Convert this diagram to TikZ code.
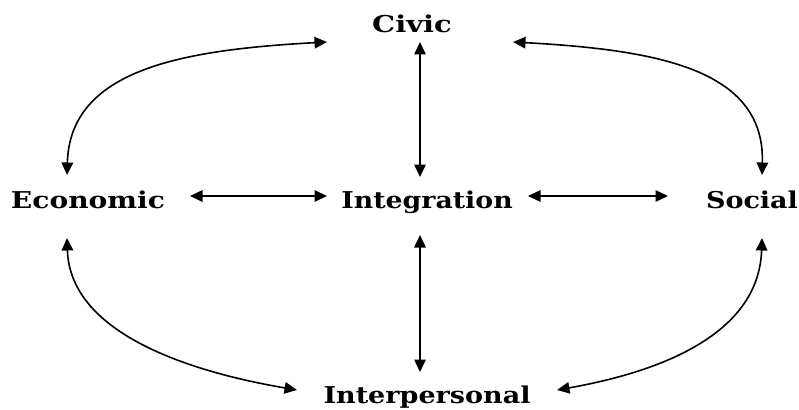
\documentclass[tikz,border=0pt]{standalone}
\usepackage{fontspec}
\newfontfamily\lblfont{DejaVu Serif}[BoldFont={DejaVu Serif Bold}]
\usetikzlibrary{arrows.meta}
\newcommand{\lbltext}[2]{\scalebox{#1}[1.03]{#2}}
\begin{document}
\begin{tikzpicture}[x=1pt,y=-1pt,
  lbl/.style={inner sep=0pt,anchor=base,font=\lblfont\bfseries\fontsize{22.5}{24}\selectfont},
  link/.style={line width=1.6pt,{Triangle[length=12.5pt,width=11.5pt]}-{Triangle[length=12.5pt,width=11.5pt]}}]
\useasboundingbox (0,0) rectangle (799,409);
\node[lbl] (civic) at (412,33) {\lbltext{1.29}{Civic}};
\node[lbl] (econ) at (88,208) {\lbltext{1.25}{Economic}};
\node[lbl] (integ) at (427,208) {\lbltext{1.19}{Integration}};
\node[lbl] (social) at (752,208) {\lbltext{1.2}{Social}};
\node[lbl] (inter) at (427,403) {\lbltext{1.2}{Interpersonal}};
% connector end points
\coordinate (civic-s) at (420,42);
\coordinate (integ-n) at (420,177);
\coordinate (integ-s) at (420,235);
\coordinate (inter-n) at (420,372);
\coordinate (econ-e) at (190,196);
\coordinate (integ-w) at (327,196);
\coordinate (integ-e) at (528,196);
\coordinate (social-w) at (668,196);
\coordinate (civic-w) at (327,42);
\coordinate (civic-e) at (513,42);
\coordinate (econ-n) at (67,175);
\coordinate (econ-s) at (67,238);
\coordinate (social-n) at (762,175);
\coordinate (social-s) at (762,238);
\coordinate (inter-w) at (297,390);
\coordinate (inter-e) at (557,390);
\draw[link] (civic-s) -- (integ-n);
\draw[link] (integ-s) -- (inter-n);
\draw[link] (econ-e) -- (integ-w);
\draw[link] (integ-e) -- (social-w);
\draw[link] (civic-w) .. controls (180,50) and (70,70) .. (econ-n);
\draw[link] (civic-e) .. controls (660,50) and (765,70) .. (social-n);
\draw[link] (econ-s) .. controls (70,330) and (180,370) .. (inter-w);
\draw[link] (social-s) .. controls (759,330) and (670,370) .. (inter-e);
\end{tikzpicture}
\end{document}
